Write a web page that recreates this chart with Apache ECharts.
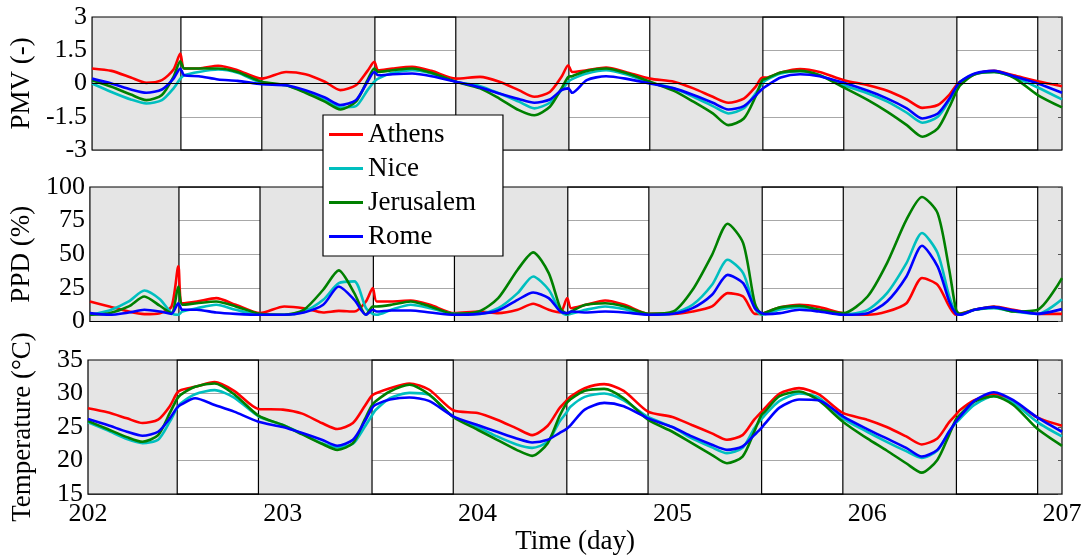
<!DOCTYPE html>
<html>
<head>
<meta charset="utf-8">
<script src="https://cdn.jsdelivr.net/npm/echarts@6/dist/echarts.min.js"></script>
<style>
html,body{margin:0;padding:0;background:#fff;}
#chart{width:1087px;height:556px;}
</style>
</head>
<body>
<div id="chart"></div>
<script>
// ---- data ----
const cities = ['Athens', 'Nice', 'Jerusalem', 'Rome'];
const colors = ['#ff0000', '#00bfbf', '#008000', '#0000ff'];

const time = [
  202, 202.1, 202.2, 202.28, 202.36, 202.42, 202.455, 202.475, 202.55, 202.65, 202.75, 202.875,
  203, 203.1, 203.2, 203.28, 203.36, 203.42, 203.455, 203.475, 203.55, 203.65, 203.75, 203.875,
  204, 204.1, 204.2, 204.28, 204.36, 204.42, 204.455, 204.475, 204.55, 204.65, 204.75, 204.875,
  205, 205.1, 205.2, 205.28, 205.36, 205.42, 205.455, 205.475, 205.55, 205.65, 205.75, 205.875,
  206, 206.1, 206.2, 206.28, 206.36, 206.42, 206.455, 206.475, 206.55, 206.65, 206.75, 206.875,
  207
];

// occupied periods (white boxes)
const occupied = [[202.458, 202.875], [203.458, 203.875], [204.458, 204.875], [205.458, 205.875], [206.458, 206.875]];

const pmvAthens = [
  0.68, 0.57, 0.27, 0.03, 0.15, 0.63, 1.35, 0.68, 0.68, 0.8, 0.6, 0.22,
  0.52, 0.42, 0.08, -0.3, -0.08, 0.57, 0.98, 0.6, 0.68, 0.75, 0.57, 0.22,
  0.3, 0.08, -0.3, -0.6, -0.38, 0.3, 0.82, 0.52, 0.6, 0.72, 0.52, 0.22,
  0.08, -0.22, -0.6, -0.87, -0.68, -0.15, 0.27, 0.27, 0.5, 0.65, 0.52, 0.15,
  -0.08, -0.33, -0.72, -1.1, -0.97, -0.5, -0.08, 0.08, 0.42, 0.57, 0.37, 0.1,
  -0.12
];
const pmvNice = [
  0, -0.38, -0.72, -0.9, -0.75, -0.22, 0.22, 0.37, 0.52, 0.63, 0.48, 0.03,
  -0.08, -0.38, -0.75, -1.08, -1.02, -0.3, 0.08, 0.22, 0.48, 0.6, 0.45, 0.08,
  -0.12, -0.45, -0.82, -1.12, -0.87, -0.3, 0.08, 0.2, 0.45, 0.6, 0.42, 0.05,
  -0.22, -0.6, -1.02, -1.35, -1.12, -0.45, 0, 0.15, 0.45, 0.55, 0.37, -0.08,
  -0.45, -0.82, -1.32, -1.77, -1.5, -0.75, -0.18, 0.08, 0.42, 0.52, 0.3, -0.18,
  -0.72
];
const pmvJerusalem = [
  0.15, -0.15, -0.5, -0.75, -0.52, 0.3, 1.0, 0.68, 0.68, 0.68, 0.52, 0.08,
  -0.08, -0.42, -0.82, -1.17, -0.82, 0.15, 0.68, 0.52, 0.6, 0.68, 0.48, 0.08,
  -0.22, -0.68, -1.2, -1.43, -1.05, -0.22, 0.3, 0.33, 0.57, 0.68, 0.48, 0.08,
  -0.33, -0.82, -1.35, -1.88, -1.58, -0.6, 0.15, 0.22, 0.5, 0.57, 0.37, -0.18,
  -0.75, -1.28, -1.88, -2.4, -2.02, -1.05, -0.38, -0.08, 0.42, 0.52, 0.27, -0.52,
  -1.08
];
const pmvRome = [
  0.22, 0, -0.27, -0.42, -0.27, 0.22, 0.68, 0.37, 0.33, 0.18, 0.12, -0.03,
  -0.08, -0.3, -0.63, -0.97, -0.75, 0.08, 0.52, 0.37, 0.42, 0.45, 0.33, 0.08,
  -0.18, -0.45, -0.7, -0.87, -0.72, -0.3, -0.22, -0.42, 0.15, 0.33, 0.22, 0,
  -0.22, -0.52, -0.87, -1.17, -1.02, -0.55, -0.25, -0.12, 0.27, 0.42, 0.33, 0.03,
  -0.33, -0.68, -1.12, -1.58, -1.35, -0.68, -0.15, 0.08, 0.45, 0.57, 0.33, 0,
  -0.42
];

const ppdAthens = [
  14.9, 11.2, 7.4, 5.5, 6.2, 11.2, 41, 13.6, 14.9, 17.4, 12.4, 6.2,
  11.2, 9.9, 6.7, 7.9, 7.4, 14.9, 24.8, 14.9, 14.9, 15.6, 12.4, 6.2,
  7.4, 6.2, 8.7, 13.2, 8.7, 6.7, 17.4, 9.9, 12.4, 15.6, 12.4, 5.7,
  5.7, 7.4, 11.2, 21.1, 18.6, 5.7, 5.7, 6.7, 10.5, 12.4, 10.7, 6.2,
  5, 7.4, 13.6, 32.3, 27.3, 11.2, 5, 5.7, 8.7, 11.2, 8.7, 5.7,
  5.7
];
const ppdNice = [
  5, 8.2, 14.9, 23.1, 16.6, 6.2, 5, 7.4, 9.9, 12.4, 8.7, 5,
  5, 7.4, 16.1, 28.5, 29.8, 9.9, 5.7, 5, 8.7, 12.4, 9.9, 5.7,
  5.7, 9.9, 21.1, 33.5, 23.6, 7.4, 5, 5.7, 8.7, 11.2, 9.2, 5,
  6.2, 12.4, 27.3, 45.9, 36, 9.9, 5, 5.5, 8.9, 10.7, 8.7, 5,
  8.7, 21.1, 43.4, 65.8, 50.9, 18.6, 6.2, 5, 8.7, 9.9, 7.4, 5.7,
  16.6
];
const ppdJerusalem = [
  5, 6.2, 11.2, 18.6, 11.7, 6.2, 26, 12.4, 13.6, 14.9, 11.2, 5.7,
  5, 8.7, 23.6, 38, 21.1, 5, 11.2, 11.2, 12.4, 14.9, 11.2, 5.7,
  7.4, 17.4, 38.5, 51.4, 36, 9.9, 5.7, 7.4, 12.4, 13.6, 11.2, 5.7,
  7.4, 23.6, 49.6, 72.7, 58.3, 13.6, 5.7, 6.7, 10.5, 11.7, 8.7, 6.2,
  18.6, 43.4, 75.7, 92.6, 80.6, 38.5, 8.7, 5.7, 8.7, 10.7, 7.4, 8.7,
  32.3
];
const ppdRome = [
  6.2, 5, 6.7, 8.7, 7.4, 5.7, 13.6, 8.7, 8.7, 6.7, 5.7, 5,
  5, 6.7, 12.4, 26, 16.1, 5, 8.7, 7.4, 8.2, 8.2, 6.7, 5,
  5.7, 8.2, 16.1, 21.6, 17.4, 7.4, 6.2, 7.4, 6.7, 7.4, 6.7, 5,
  5.7, 9.9, 19.9, 34.7, 28.5, 9.9, 6.2, 5.5, 6.2, 8.7, 7.4, 5,
  6.2, 14.9, 33.5, 56.3, 41, 14.9, 5.7, 5, 8.7, 10.7, 8.2, 5.7,
  9.2
];

const tempAthens = [
  27.8, 27.2, 26.3, 25.6, 26.1, 28.1, 30.0, 30.5, 31.0, 31.7, 30.4, 27.7,
  27.6, 27.0, 25.6, 24.7, 25.6, 28.1, 29.6, 30.0, 30.8, 31.5, 30.6, 27.5,
  27.1, 26.1, 24.8, 23.8, 25.2, 27.8, 28.9, 29.5, 30.8, 31.4, 30.4, 27.3,
  26.5, 25.3, 24.1, 23.1, 23.8, 26.1, 27.2, 27.8, 30.0, 30.8, 29.9, 27.1,
  26.1, 25.0, 23.6, 22.4, 23.3, 25.7, 26.8, 27.5, 29.0, 29.9, 28.8, 26.4,
  25.2
];
const tempNice = [
  25.7, 24.5, 23.2, 22.6, 23.1, 25.8, 27.7, 28.5, 29.9, 30.5, 29.4, 26.6,
  25.3, 24.0, 22.6, 22.0, 22.5, 25.0, 26.6, 27.5, 29.3, 30.1, 29.8, 26.5,
  25.0, 23.6, 22.4, 21.9, 22.8, 25.8, 27.1, 28.0, 29.5, 30.0, 29.0, 26.5,
  25.0, 23.3, 22.0, 21.1, 21.9, 24.8, 26.1, 26.8, 28.9, 30.0, 29.4, 26.3,
  24.3, 22.8, 21.4, 20.4, 21.5, 24.3, 25.6, 26.2, 28.3, 29.6, 28.6, 25.7,
  23.6
];
const tempJerusalem = [
  25.9, 24.7, 23.5, 22.8, 23.8, 27.1, 29.1, 29.8, 31.0, 31.5, 29.9, 26.7,
  25.3, 23.9, 22.5, 21.6, 22.6, 26.1, 28.1, 28.8, 30.3, 31.3, 29.9, 26.5,
  24.6, 23.1, 21.6, 20.7, 22.6, 26.6, 28.5, 29.1, 30.4, 30.7, 29.3, 26.1,
  24.3, 22.6, 20.9, 19.6, 20.6, 24.3, 26.7, 27.3, 29.6, 30.3, 29.0, 25.8,
  23.3, 21.5, 19.6, 18.2, 20.1, 23.8, 26.1, 26.8, 28.8, 29.6, 28.3, 24.7,
  22.2
];
const tempRome = [
  26.2, 25.3, 24.3, 23.7, 24.3, 26.3, 27.8, 28.3, 29.3, 28.3, 27.3, 25.8,
  25.0, 24.1, 23.1, 22.2, 23.1, 25.8, 27.7, 28.3, 29.1, 29.4, 28.9, 26.6,
  25.3, 24.3, 23.3, 22.7, 23.1, 24.1, 24.7, 25.2, 27.6, 28.6, 28.1, 26.3,
  25.0, 23.6, 22.4, 21.6, 22.1, 23.8, 24.8, 25.5, 27.9, 29.1, 29.0, 26.6,
  24.7, 23.3, 21.9, 20.6, 21.6, 24.3, 25.8, 26.5, 28.9, 30.2, 29.0, 26.4,
  24.3
];

const xTicks = { min: 202, max: 207, interval: 1 };
const pmvTicks = { min: -3, max: 3, interval: 1.5 };
const ppdTicks = { min: 0, max: 100, interval: 25 };
const tempTicks = { min: 15, max: 35, interval: 5 };
const axisNames = ['PMV (-)', 'PPD (%)', 'Temperature (\u00B0C)'];
const xName = 'Time (day)';

// ---- build ----
const FONT = 'Liberation Serif';
const panels = [
  { ticks: pmvTicks, data: [pmvAthens, pmvNice, pmvJerusalem, pmvRome], zero: true },
  { ticks: ppdTicks, data: [ppdAthens, ppdNice, ppdJerusalem, ppdRome] },
  { ticks: tempTicks, data: [tempAthens, tempNice, tempJerusalem, tempRome] }
];
const grids = [
  { left: 88, right: 25, top: 17, height: 133 },
  { left: 88, right: 25, top: 187, height: 134.5 },
  { left: 88, right: 25, top: 360, height: 134.3 }
];

// night (gray) periods = complement of occupied
const night = [];
let prev = xTicks.min;
occupied.forEach(o => { night.push([prev, o[0]]); prev = o[1]; });
night.push([prev, xTicks.max]);

const xAxis = [], yAxis = [], series = [];
panels.forEach((p, i) => {
  const last = i === panels.length - 1;
  xAxis.push({
    type: 'value', gridIndex: i, min: xTicks.min, max: xTicks.max, interval: xTicks.interval,
    axisLine: { show: false }, axisTick: { show: false }, splitLine: { show: false },
    axisLabel: { show: last, fontFamily: FONT, fontSize: 26, color: '#000', margin: 7 },
    name: last ? xName : '', nameLocation: 'middle', nameGap: 31,
    nameTextStyle: { fontFamily: FONT, fontSize: 27, color: '#000' }
  });
  yAxis.push({
    type: 'value', gridIndex: i, position: 'left', min: p.ticks.min, max: p.ticks.max, interval: p.ticks.interval,
    axisLine: { show: false }, axisTick: { show: false },
    splitLine: { show: true, lineStyle: { color: '#a8a8a8', width: 1 } },
    axisLabel: { fontFamily: FONT, fontSize: 26, color: '#000', margin: 5 },
    name: axisNames[i], nameLocation: 'middle', nameGap: 52,
    nameTextStyle: { fontFamily: FONT, fontSize: 27, color: '#000' }
  });
  yAxis.push({
    type: 'value', gridIndex: i, position: 'right', min: p.ticks.min, max: p.ticks.max, interval: p.ticks.interval,
    z: 10, axisLine: { show: false }, splitLine: { show: false },
    axisTick: { show: true, inside: true, length: 4, lineStyle: { color: '#555' } },
    axisLabel: { show: false }
  });
  // gray night areas
  series.push({
    type: 'line', xAxisIndex: i, yAxisIndex: 2 * i, data: [], z: 1, silent: true,
    markArea: {
      silent: true,
      itemStyle: { color: '#e5e5e5', borderWidth: 0 },
      data: night.map(n => [{ xAxis: n[0] }, { xAxis: n[1] }])
    }
  });
  // white occupied frames + outer box
  const frames = occupied.map(o => [{ xAxis: o[0] }, { xAxis: o[1] }]);
  frames.push([{ xAxis: xTicks.min }, { xAxis: xTicks.max }]);
  const frameSeries = {
    type: 'line', xAxisIndex: i, yAxisIndex: 2 * i, data: [], z: 2, silent: true,
    markArea: {
      silent: true,
      itemStyle: { color: 'rgba(0,0,0,0)', borderColor: '#000', borderWidth: 1.2 },
      data: frames
    }
  };
  series.push(frameSeries);
  if (p.zero) {
    series.push({
      type: 'line', xAxisIndex: i, yAxisIndex: 2 * i, data: [], z: 2, silent: true,
      markLine: {
        silent: true, symbol: 'none', label: { show: false },
        lineStyle: { color: '#000', type: 'solid', width: 1.2 },
        data: [{ yAxis: 0 }]
      }
    });
  }
  p.data.forEach((arr, c) => {
    series.push({
      name: cities[c], type: 'line', xAxisIndex: i, yAxisIndex: 2 * i, z: 3,
      data: time.map((t, k) => [t, arr[k]]),
      showSymbol: false, symbol: 'none', smooth: 0.25,
      lineStyle: { color: colors[c], width: 2.6 },
      itemStyle: { color: colors[c] }
    });
  });
});

const option = {
  animation: false,
  backgroundColor: '#fff',
  grid: grids,
  xAxis, yAxis, series,
  legend: {
    data: cities,
    orient: 'vertical',
    left: 323, top: 115,
    backgroundColor: '#fff',
    borderColor: '#000', borderWidth: 1.2,
    padding: [6, 27, 6, 6],
    itemWidth: 34, itemHeight: 3, itemGap: 7,
    icon: 'rect',
    textStyle: { fontFamily: FONT, fontSize: 27, color: '#000', lineHeight: 27, padding: [0, 0, 0, 0] },
    z: 20
  }
};

const chart = echarts.init(document.getElementById('chart'), null, { renderer: 'canvas' });
chart.setOption(option);
</script>
</body>
</html>
